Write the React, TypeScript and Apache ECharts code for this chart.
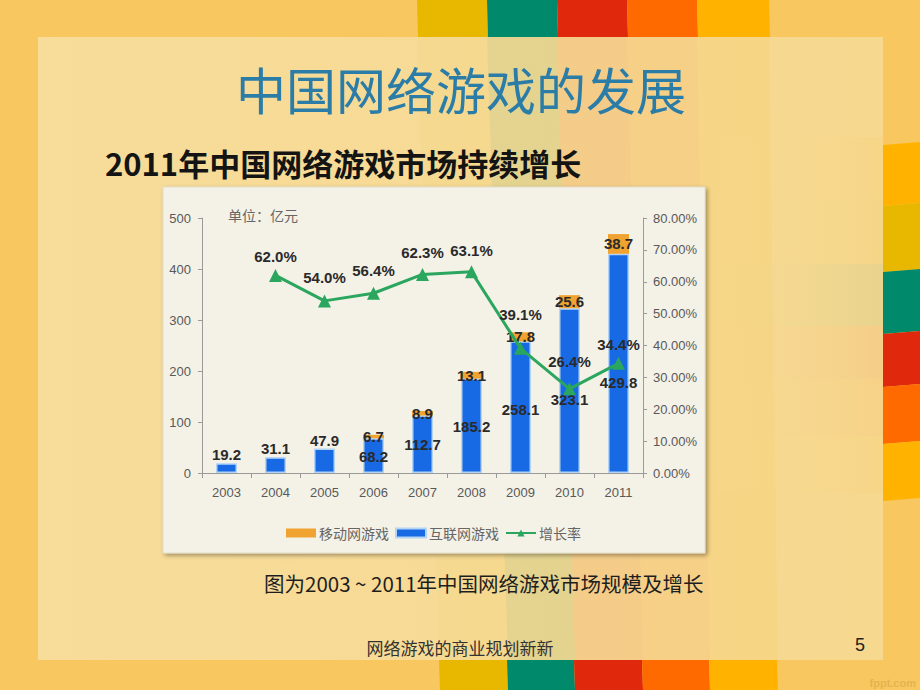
import React, { useEffect, useRef } from "react";
import * as echarts from "echarts";

const categories = ["2003", "2004", "2005", "2006", "2007", "2008", "2009", "2010", "2011"];
const internetRevenue = [19.2, 31.1, 47.9, 68.2, 112.7, 185.2, 258.1, 323.1, 429.8];
const mobileRevenue = [null, null, null, 6.7, 8.9, 13.1, 17.8, 25.6, 38.7];
const growthRate = [null, 62.0, 54.0, 56.4, 62.3, 63.1, 39.1, 26.4, 34.4];

const seriesNames = ["移动网游戏", "互联网游戏", "增长率"];
const titleText = "中国网络游戏的发展";
const subtitleText = "2011年中国网络游戏市场持续增长";
const captionText = "图为2003 ~ 2011年中国网络游戏市场规模及增长";
const footerText = "网络游戏的商业规划新新";
const pageNumber = "5";
const unitText = "单位：亿元";

const CJK = '"Noto Sans CJK SC", "Noto Sans", sans-serif';
const NUM = '"Liberation Sans", Arial, sans-serif';

const stripeColors = ["#e8b800", "#00896a", "#e0280c", "#ff6a00", "#ffb300"];

function buildOption() {
  const bg: any[] = [];
  bg.push({ type: "rect", z: -100, silent: true, shape: { x: 0, y: 0, width: 920, height: 690 }, style: { fill: "#f8c760" } });
  // panel
  bg.push({
    type: "rect", z: -99, silent: true,
    shape: { x: 38, y: 37, width: 845, height: 623 },
    style: {
      fill: new echarts.graphic.LinearGradient(0, 0, 1, 0, [
        { offset: 0, color: "#f7dc9a" },
        { offset: 1, color: "#f6d88f" },
      ]),
    },
  });
  // top / bottom stripes and their tints
  const topX = [417, 487, 557, 627, 697, 769];
  const botX = [440, 508, 575, 643, 710, 778];
  for (let i = 0; i < 5; i++) {
    bg.push({ type: "polygon", z: -98, silent: true, shape: { points: [[topX[i], 0], [topX[i + 1], 0], [topX[i + 1] + 1, 37], [topX[i] + 1, 37]] }, style: { fill: stripeColors[i] } });
    bg.push({ type: "polygon", z: -98, silent: true, shape: { points: [[botX[i] - 1, 660], [botX[i + 1] - 1, 660], [botX[i + 1], 690], [botX[i], 690]] }, style: { fill: stripeColors[i] } });
    bg.push({ type: "polygon", z: -97, silent: true, shape: { points: [[topX[i], 37], [topX[i + 1], 37], [botX[i + 1], 660], [botX[i], 660]] }, style: { fill: stripeColors[i], opacity: i === 0 ? 0.03 : 0.07 } });
  }
  // right stripes
  const rightY = [145, 206, 272, 334, 387, 444, 501];
  const rightColors = ["#ffb300", "#e8b800", "#00896a", "#e0280c", "#ff6a00", "#ffb300"];
  for (let i = 0; i < 6; i++) {
    bg.push({ type: "polygon", z: -98, silent: true, shape: { points: [[883, rightY[i]], [920, rightY[i] - 3], [920, rightY[i + 1] - 3], [883, rightY[i + 1]]] }, style: { fill: rightColors[i] } });
    bg.push({
      type: "rect", z: -97, silent: true,
      shape: { x: 700, y: rightY[i] - 8, width: 183, height: rightY[i + 1] - rightY[i] },
      style: {
        fill: new echarts.graphic.LinearGradient(0, 0, 1, 0, [
          { offset: 0, color: "rgba(255,255,255,0)" },
          { offset: 1, color: rightColors[i] },
        ]),
        opacity: 0.06,
      },
    });
  }
  // chart box
  bg.push({
    type: "rect", z: -90, silent: true,
    shape: { x: 163, y: 187, width: 542, height: 366 },
    style: { fill: "#f4f1e7", stroke: "#e2dccb", lineWidth: 1, shadowColor: "rgba(0,0,0,0.35)", shadowBlur: 4, shadowOffsetX: 2, shadowOffsetY: 2 },
  });

  const texts: any[] = [
    { type: "text", z: 50, x: 461, y: 88, style: { text: titleText, fill: "#2b7da8", font: `50px ${CJK}`, align: "center", verticalAlign: "middle" } },
    { type: "text", z: 50, x: 105, y: 162, style: { text: subtitleText, fill: "#141414", font: `bold 31px ${CJK}`, align: "left", verticalAlign: "middle" } },
    { type: "text", z: 50, x: 264, y: 583, style: { text: captionText, fill: "#1e1e1e", font: `20.5px ${CJK}`, align: "left", verticalAlign: "middle" } },
    { type: "text", z: 50, x: 460, y: 647, style: { text: footerText, fill: "#333333", font: `17px ${CJK}`, align: "center", verticalAlign: "middle" } },
    { type: "text", z: 50, x: 860, y: 645, style: { text: pageNumber, fill: "#222222", font: `18px ${NUM}`, align: "center", verticalAlign: "middle" } },
    { type: "text", z: 50, x: 916, y: 683, style: { text: "fppt.com", fill: "#e6b34e", font: `bold 11px ${NUM}`, align: "right", verticalAlign: "middle" } },
    { type: "text", z: 50, x: 228, y: 215, style: { text: unitText, fill: "#666666", font: `14px ${CJK}`, align: "left", verticalAlign: "middle" } },
  ];

  const blueDist = [1, 1, 1, 9, 21, 39, 56, 66, 83];
  const lineDist = [8, 5, 9, 9, 8, 7, 20, 13, 5];
  const labelFont = { fontFamily: NUM, fontWeight: "bold" as const, fontSize: 15, color: "#2a2a2a" };

  return {
    animation: false,
    backgroundColor: "transparent",
    graphic: { elements: [...bg, ...texts] },
    grid: { left: 202, right: 277, top: 218, bottom: 217, containLabel: false },
    legend: {
      left: 281, top: 521, itemWidth: 30, itemHeight: 9, itemGap: 6,
      textStyle: { fontFamily: CJK, fontSize: 14, color: "#666666", padding: [0, 0, 0, -2] },
      data: [
        { name: seriesNames[0], icon: "rect" },
        { name: seriesNames[1], icon: "rect" },
        { name: seriesNames[2] },
      ],
    },
    xAxis: {
      type: "category",
      data: categories,
      axisLine: { lineStyle: { color: "#9a9a9a", width: 1 } },
      axisTick: { show: true, length: 5, lineStyle: { color: "#9a9a9a" } },
      axisLabel: { color: "#595959", fontFamily: NUM, fontSize: 13, margin: 13 },
    },
    yAxis: [
      {
        type: "value", min: 0, max: 500, interval: 100,
        axisLine: { show: true, lineStyle: { color: "#9a9a9a" } },
        axisTick: { show: true, length: 4, lineStyle: { color: "#9a9a9a" } },
        splitLine: { show: false },
        axisLabel: { color: "#595959", fontFamily: NUM, fontSize: 13, margin: 11 },
      },
      {
        type: "value", min: 0, max: 80, interval: 10,
        axisLine: { show: true, lineStyle: { color: "#9a9a9a" } },
        axisTick: { show: true, length: 4, lineStyle: { color: "#9a9a9a" } },
        splitLine: { show: false },
        axisLabel: { color: "#595959", fontFamily: NUM, fontSize: 13, margin: 10, formatter: (v: number) => v.toFixed(2) + "%" },
      },
    ],
    series: [
      {
        name: seriesNames[1],
        type: "bar",
        stack: "rev",
        barWidth: 21,
        itemStyle: { color: "#1769e4", borderColor: "#b4d4f6", borderWidth: 1.5 },
        data: internetRevenue.map((v, i) => ({
          value: v,
          label: i < 3
            ? { show: true, position: "top", distance: blueDist[i], ...labelFont }
            : { show: true, position: "insideBottom", distance: blueDist[i], ...labelFont },
        })),
        z: 2,
      },
      {
        name: seriesNames[0],
        type: "bar",
        stack: "rev",
        barWidth: 21,
        itemStyle: { color: "#f0a330" },
        label: { show: true, position: "inside", ...labelFont, formatter: (p: any) => (p.value == null ? "" : String(p.value)) },
        data: mobileRevenue,
        z: 2,
      },
      {
        name: seriesNames[2],
        type: "line",
        yAxisIndex: 1,
        symbol: "triangle",
        symbolSize: 13,
        connectNulls: false,
        lineStyle: { color: "#2aa65e", width: 3 },
        itemStyle: { color: "#2aa65e" },
        data: growthRate.map((v, i) => ({
          value: v,
          label: { show: v != null, position: "top", distance: lineDist[i], ...labelFont, formatter: (p: any) => Number(p.value).toFixed(1) + "%" },
        })),
        z: 5,
      },
    ],
  };
}

export default function App() {
  const ref = useRef<HTMLDivElement>(null);
  useEffect(() => {
    if (!ref.current) return;
    const chart = echarts.init(ref.current, undefined, { renderer: "svg" });
    chart.setOption(buildOption() as any);
    return () => chart.dispose();
  }, []);
  return <div ref={ref} style={{ position: "absolute", left: 0, top: 0, width: 920, height: 690 }} />;
}
